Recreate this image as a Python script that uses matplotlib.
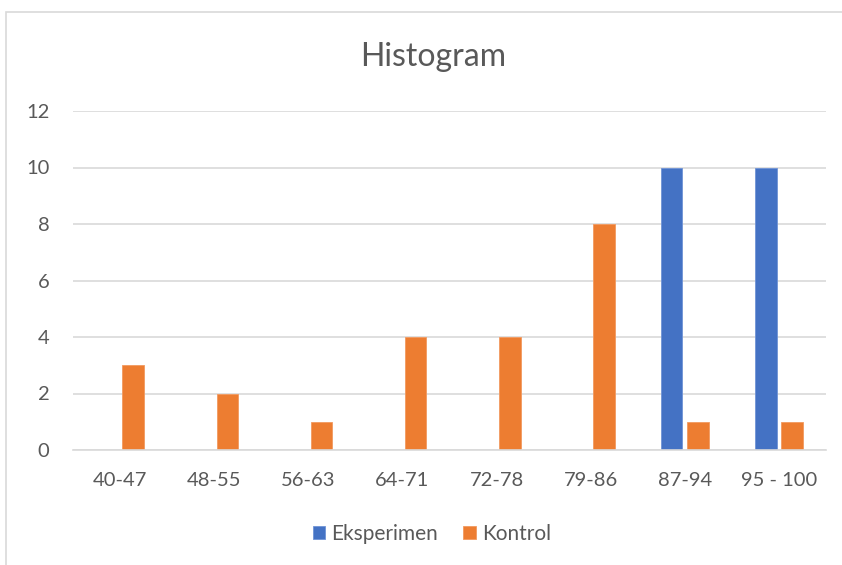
import matplotlib.pyplot as plt
import numpy as np
from matplotlib.patches import Rectangle

categories = ['40-47', '48-55', '56-63', '64-71', '72-78', '79-86', '87-94', '95 - 100']
eksperimen = [0, 0, 0, 0, 0, 0, 10, 10]
kontrol = [3, 2, 1, 4, 4, 8, 1, 1]

plt.rcParams['font.family'] = ['Lato', 'DejaVu Sans']
grey = '#595959'

fig = plt.figure(figsize=(8.42, 5.65), dpi=100)
ax = fig.add_axes([73/842, 1-450/565, (826-73)/842, (450-111)/565])

# chart frame like excel
fig.patches.append(Rectangle((6/842, -0.1), 1.2, 1-12/565+0.1, transform=fig.transFigure,
                             fill=False, edgecolor='#d9d9d9', linewidth=1.2))

x = np.arange(len(categories))
w = 0.23
gap = 0.05
ax.bar(x - (w+gap)/2, eksperimen, w, color='#4472C4', label='Eksperimen', edgecolor='#6f93d6', linewidth=0.6)
ax.bar(x + (w+gap)/2, kontrol, w, color='#ED7D31', label='Kontrol', edgecolor='#f29a60', linewidth=0.6)

ax.set_xlim(-0.5, len(categories)-0.5)
ax.set_ylim(0, 12)
ax.set_yticks(range(0, 13, 2))
ax.set_xticks(x)
ax.set_xticklabels(categories)
ax.grid(axis='y', color='#d9d9d9', linewidth=1.2)
ax.set_axisbelow(True)
for s in ['top', 'right', 'left']:
    ax.spines[s].set_visible(False)
ax.spines['bottom'].set_color('#d9d9d9')
ax.spines['bottom'].set_linewidth(1.2)
ax.tick_params(axis='both', length=0, labelsize=14.5, colors=grey)
ax.tick_params(axis='y', pad=17)
ax.tick_params(axis='x', pad=16)

fig.text(433/842, 1-57/565, 'Histogram', ha='center', va='center', fontsize=23, color=grey)

fig.legend(loc='center', bbox_to_anchor=(432/842, 1-534/565), ncol=2, frameon=False,
           fontsize=15, labelcolor=grey, handlelength=0.6, handleheight=0.6,
           handletextpad=0.3, columnspacing=1.2)

plt.savefig('out.png', dpi=100)
